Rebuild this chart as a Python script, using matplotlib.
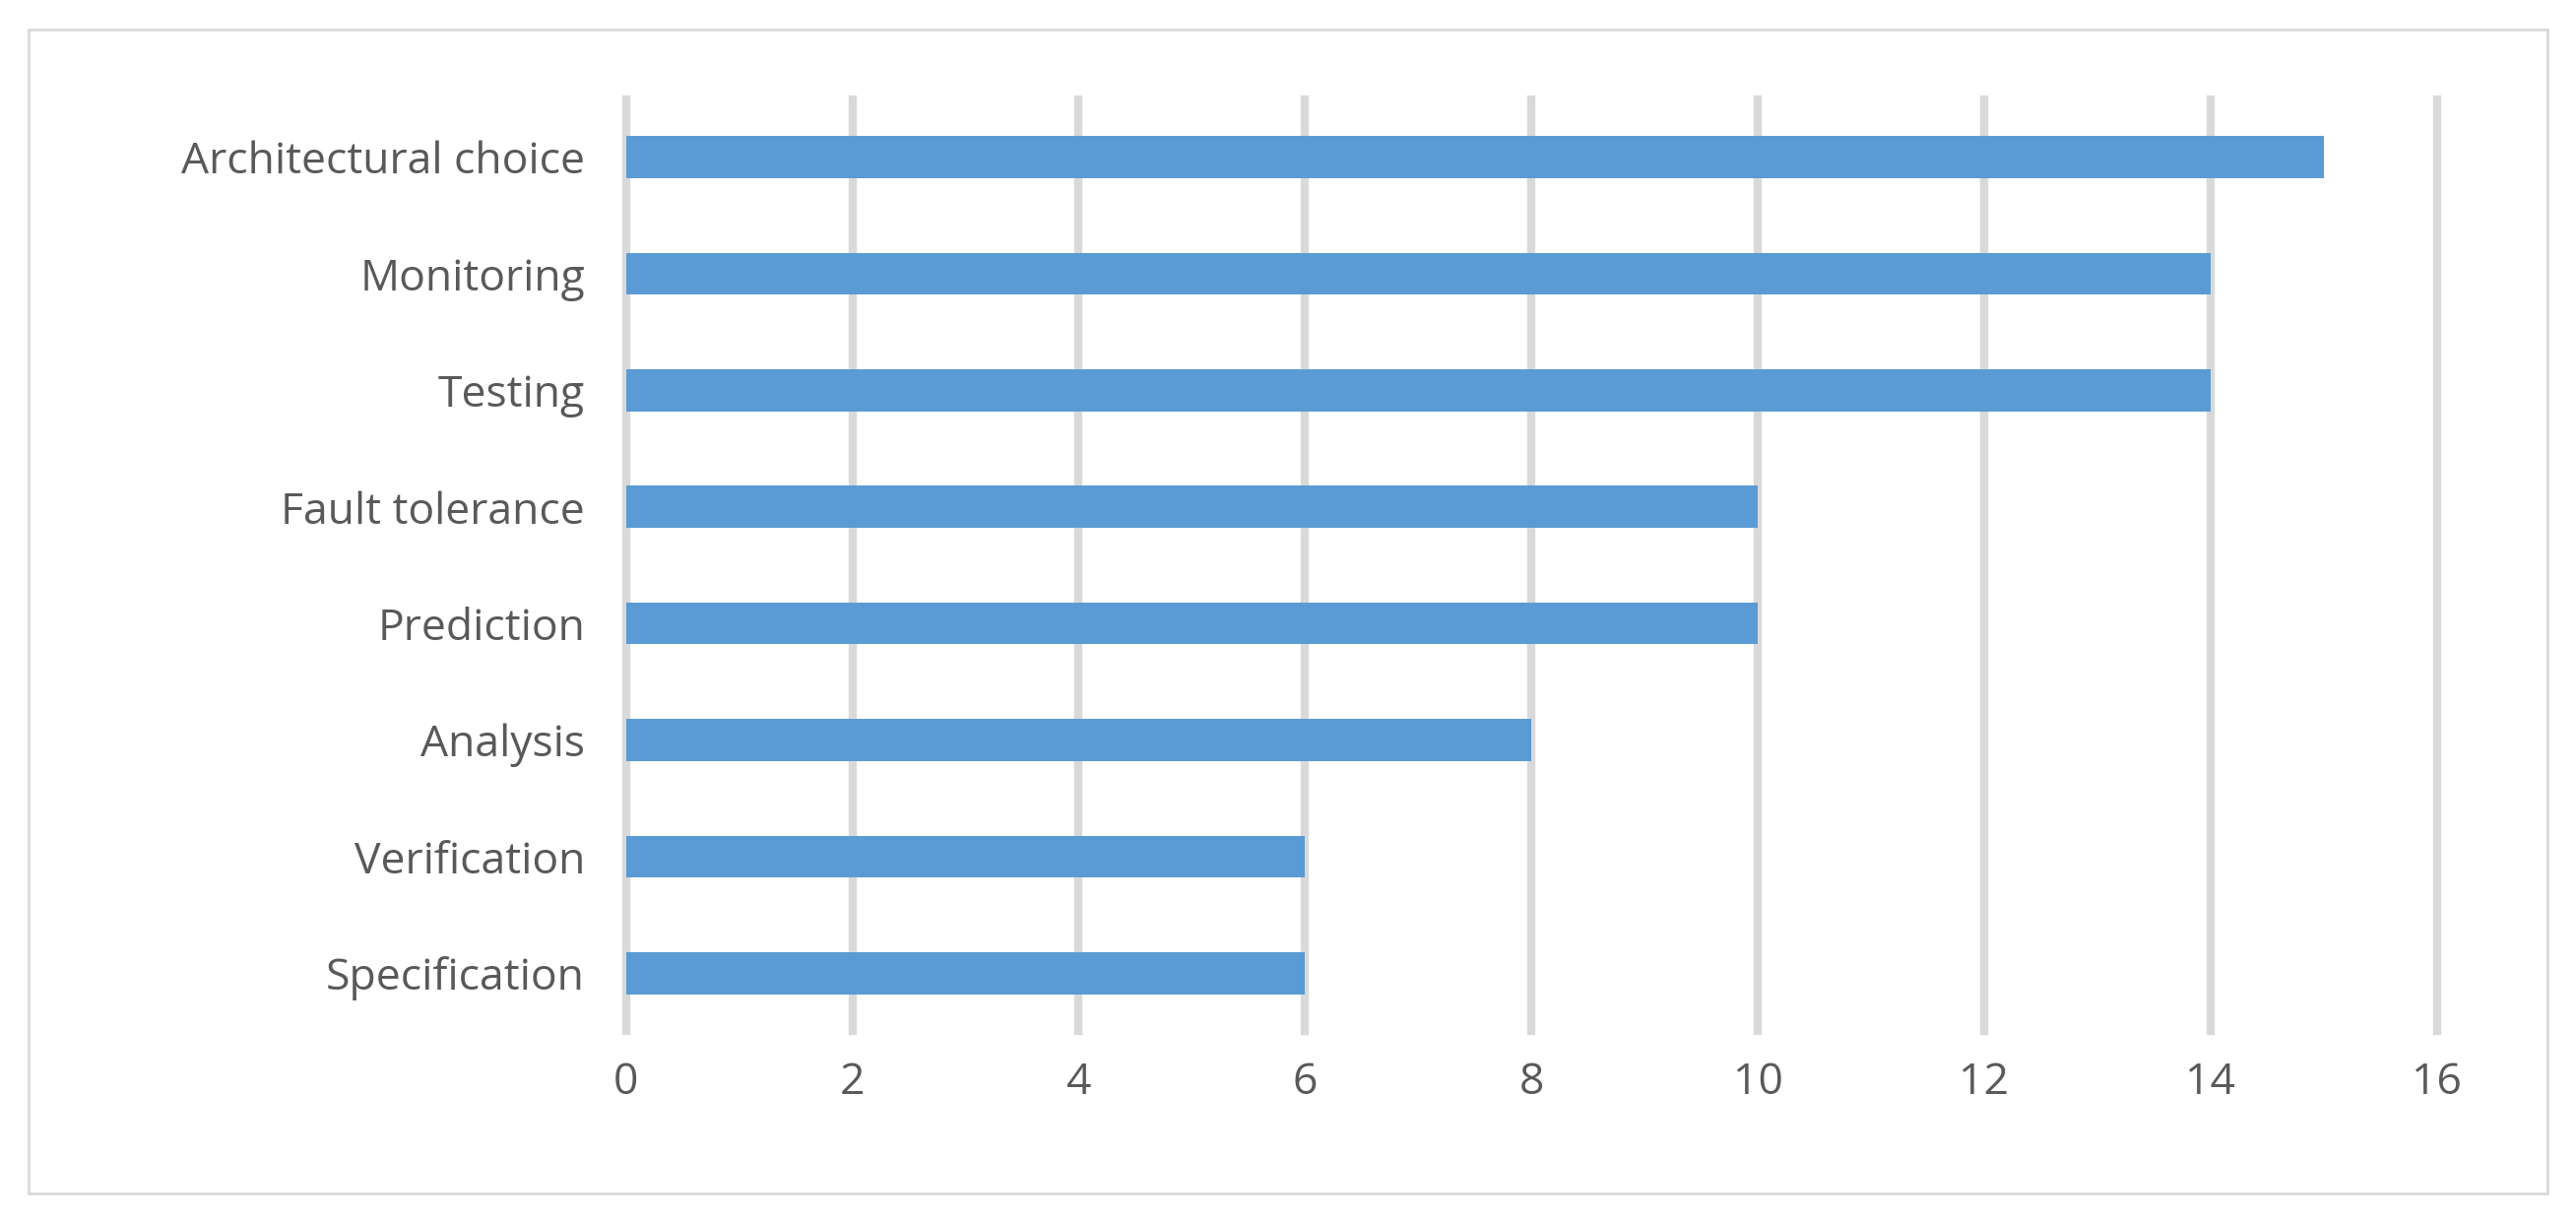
import matplotlib
matplotlib.use("Agg")
import matplotlib.pyplot as plt
from matplotlib.patches import Rectangle

categories = ["Specification", "Verification", "Analysis", "Prediction",
              "Fault tolerance", "Testing", "Monitoring", "Architectural choice"]
values = [6, 6, 8, 10, 10, 14, 14, 15]
xticks = [0, 2, 4, 6, 8, 10, 12, 14, 16]

plt.rcParams['font.family'] = ['Open Sans', 'DejaVu Sans']
fig = plt.figure(figsize=(26.16, 12.41), dpi=100)
ax = fig.add_axes([0.243, 0.156, 0.703, 0.763])
ax.barh(range(len(categories)), values, height=0.36, color="#5B9BD5", zorder=3)
ax.set_ylim(-0.5, 7.5)
ax.set_xlim(0, 16)
ax.set_xticks(xticks)
ax.set_yticks(range(len(categories)))
ax.set_yticklabels(categories)
ax.grid(axis='x', color="#D9D9D9", linewidth=6, zorder=0)
ax.grid(axis='y', visible=False)
for s in ax.spines.values():
    s.set_visible(False)
ax.tick_params(axis='both', length=0, labelsize=32, labelcolor="#595959")
ax.tick_params(axis='x', pad=22)
ax.tick_params(axis='y', pad=30)
ax.set_clip_on(False)
for ln in ax.get_xgridlines():
    ln.set_clip_on(False)
fig.patches.append(Rectangle((0.011, 0.023), 0.978, 0.953, transform=fig.transFigure,
                             fill=False, edgecolor="#D9D9D9", linewidth=2))
fig.savefig("out.png", dpi=100)
